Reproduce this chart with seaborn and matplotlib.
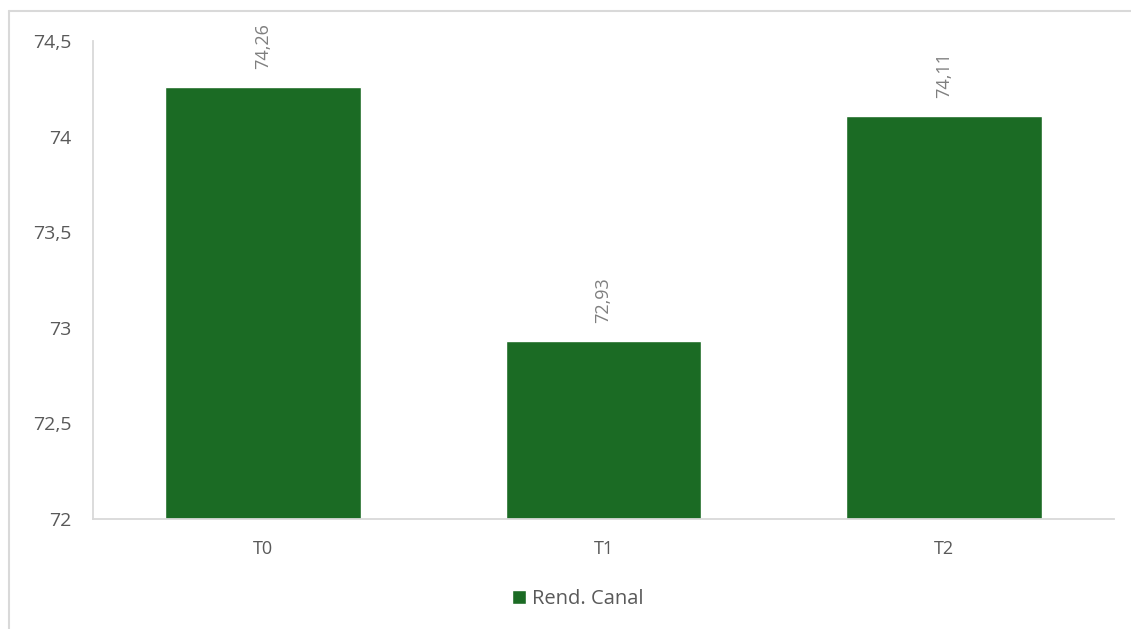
import pandas as pd
import matplotlib.pyplot as plt
import seaborn as sns
from matplotlib.lines import Line2D
from matplotlib.patches import Patch

tratamentos = ['T0', 'T1', 'T2']
rend_canal = [74.26, 72.93, 74.11]
y_ticks = [72, 72.5, 73, 73.5, 74, 74.5]

df = pd.DataFrame({'Tratamento': tratamentos, 'Rend. Canal': rend_canal})

verde = '#1B6B24'
cinza_txt = '#595959'
cinza_linha = '#D9D9D9'

sns.set_style('white')
plt.rcParams['font.family'] = ['Open Sans', 'DejaVu Sans']

fig = plt.figure(figsize=(11.31, 6.29), dpi=100)
ax = fig.add_axes([93 / 1131, 1 - 519 / 629, (1114 - 93) / 1131, (519 - 41) / 629])

sns.barplot(data=df, x='Tratamento', y='Rend. Canal', color=verde, width=0.574,
            saturation=1, ax=ax)

ax.set_ylim(72, 74.5)
ax.set_yticks(y_ticks)
ax.set_yticklabels([f'{v:g}'.replace('.', ',') for v in y_ticks])
ax.tick_params(axis='y', length=0, pad=15.5, labelsize=14, labelcolor=cinza_txt)
ax.tick_params(axis='x', length=0, pad=15, labelsize=13, labelcolor=cinza_txt)
ax.set_xlabel('')
ax.set_ylabel('')

for s in ['top', 'right']:
    ax.spines[s].set_visible(False)
for s in ['left', 'bottom']:
    ax.spines[s].set_color(cinza_linha)
    ax.spines[s].set_linewidth(1.3)

for i, v in enumerate(rend_canal):
    ax.annotate(f'{v:.2f}'.replace('.', ','), (i, v), xytext=(0, 13),
                textcoords='offset points', rotation=90, ha='center', va='bottom',
                fontsize=13, color='#7F7F7F')

ax.legend(handles=[Patch(facecolor=verde, label='Rend. Canal')],
          loc='center', bbox_to_anchor=(578 / 1131, 1 - 599 / 629),
          bbox_transform=fig.transFigure, frameon=False, fontsize=14.5,
          labelcolor=cinza_txt, handlelength=0.7, handleheight=0.7,
          handletextpad=0.3)

# borda do gráfico (recortada)
fig.add_artist(Line2D([9 / 1131, 1], [1 - 11 / 629, 1 - 11 / 629],
                      transform=fig.transFigure, color=cinza_linha, lw=1.5))
fig.add_artist(Line2D([9 / 1131, 9 / 1131], [0, 1 - 11 / 629],
                      transform=fig.transFigure, color=cinza_linha, lw=1.5))

fig.savefig('out.png', dpi=100)
